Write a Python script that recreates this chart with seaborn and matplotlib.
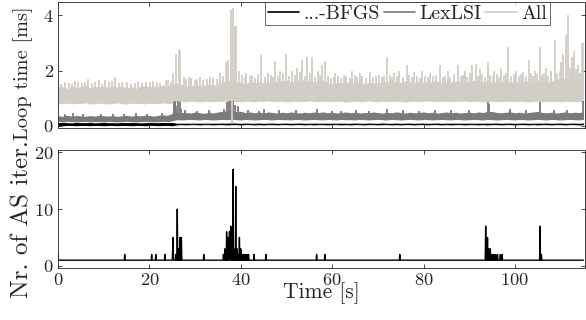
import matplotlib
matplotlib.use('Agg')

import numpy as np
import pandas as pd
import matplotlib.pyplot as plt
import seaborn as sns

# ---------------- DATA ----------------
# Top panel, loop time [ms]. Each series is a dense noise band: per second t = 0..115
# the low and high edge of the band, plus the narrow spikes that stick out of it.
bfgs_lo = [0.01, 0.00, 0.01, 0.01, 0.00, 0.01, 0.01, 0.00, 0.01, 0.01,
           0.00, 0.01, 0.01, 0.00, 0.01, 0.01, 0.00, 0.01, 0.01, 0.00,
           0.01, 0.01, 0.00, 0.01, 0.01, 0.00, 0.03, 0.04, 0.03, 0.04,
           0.04, 0.03, 0.04, 0.04, 0.03, 0.04, 0.04, 0.03, 0.04, 0.04,
           0.03, 0.04, 0.04, 0.03, 0.04, 0.03, 0.04, 0.04, 0.03, 0.04,
           0.04, 0.03, 0.04, 0.04, 0.03, 0.04, 0.03, 0.04, 0.04, 0.03,
           0.04, 0.04, 0.03, 0.04, 0.03, 0.04, 0.04, 0.03, 0.04, 0.04,
           0.03, 0.04, 0.04, 0.03, 0.04, 0.03, 0.04, 0.04, 0.03, 0.04,
           0.04, 0.03, 0.04, 0.04, 0.03, 0.04, 0.03, 0.04, 0.04, 0.03,
           0.04, 0.04, 0.03, 0.04, 0.03, 0.04, 0.04, 0.03, 0.04, 0.04,
           0.03, 0.04, 0.04, 0.03, 0.04, 0.03, 0.04, 0.04, 0.03, 0.04,
           0.04, 0.03, 0.04, 0.04, 0.03, 0.04]
bfgs_hi = [0.11, 0.12, 0.11, 0.10, 0.12, 0.11, 0.11, 0.12, 0.10, 0.11,
           0.12, 0.11, 0.11, 0.10, 0.12, 0.11, 0.12, 0.11, 0.10, 0.11,
           0.12, 0.11, 0.11, 0.12, 0.11, 0.12, 0.08, 0.07, 0.08, 0.07,
           0.07, 0.08, 0.07, 0.07, 0.08, 0.07, 0.08, 0.08, 0.09, 0.08,
           0.07, 0.08, 0.07, 0.07, 0.08, 0.07, 0.07, 0.08, 0.07, 0.07,
           0.08, 0.07, 0.07, 0.08, 0.07, 0.07, 0.08, 0.07, 0.07, 0.08,
           0.07, 0.07, 0.08, 0.07, 0.07, 0.08, 0.07, 0.07, 0.08, 0.07,
           0.07, 0.08, 0.07, 0.07, 0.08, 0.07, 0.07, 0.08, 0.07, 0.07,
           0.08, 0.07, 0.07, 0.08, 0.07, 0.07, 0.08, 0.07, 0.07, 0.08,
           0.07, 0.07, 0.08, 0.07, 0.08, 0.07, 0.08, 0.07, 0.07, 0.08,
           0.07, 0.07, 0.08, 0.07, 0.07, 0.08, 0.07, 0.08, 0.07, 0.07,
           0.08, 0.07, 0.07, 0.08, 0.07, 0.08]
bfgs_spikes = [(38.1, 0.18)]

lex_lo = [0.15, 0.14, 0.16, 0.15, 0.14, 0.15, 0.16, 0.14, 0.15, 0.15,
          0.14, 0.16, 0.15, 0.14, 0.15, 0.16, 0.15, 0.14, 0.15, 0.16,
          0.15, 0.14, 0.15, 0.16, 0.15, 0.18, 0.22, 0.21, 0.22, 0.23,
          0.22, 0.21, 0.23, 0.22, 0.21, 0.22, 0.23, 0.22, 0.24, 0.22,
          0.21, 0.23, 0.22, 0.21, 0.22, 0.23, 0.22, 0.21, 0.23, 0.22,
          0.22, 0.21, 0.23, 0.22, 0.21, 0.22, 0.23, 0.22, 0.21, 0.23,
          0.22, 0.21, 0.23, 0.22, 0.22, 0.21, 0.23, 0.22, 0.21, 0.22,
          0.23, 0.22, 0.21, 0.23, 0.22, 0.21, 0.22, 0.23, 0.22, 0.21,
          0.23, 0.22, 0.21, 0.22, 0.23, 0.22, 0.21, 0.23, 0.22, 0.21,
          0.22, 0.23, 0.22, 0.21, 0.23, 0.22, 0.21, 0.22, 0.23, 0.22,
          0.21, 0.23, 0.22, 0.21, 0.22, 0.23, 0.22, 0.21, 0.23, 0.22,
          0.21, 0.22, 0.23, 0.22, 0.21, 0.23]
lex_hi = [0.36, 0.34, 0.38, 0.35, 0.37, 0.36, 0.34, 0.37, 0.35, 0.38,
          0.36, 0.35, 0.37, 0.34, 0.36, 0.38, 0.35, 0.37, 0.36, 0.38,
          0.37, 0.35, 0.38, 0.39, 0.38, 0.45, 0.50, 0.48, 0.48, 0.46,
          0.50, 0.47, 0.45, 0.49, 0.46, 0.50, 0.52, 0.55, 0.58, 0.52,
          0.52, 0.48, 0.50, 0.47, 0.49, 0.46, 0.50, 0.48, 0.46, 0.49,
          0.47, 0.50, 0.48, 0.46, 0.49, 0.47, 0.50, 0.48, 0.50, 0.47,
          0.49, 0.46, 0.48, 0.50, 0.47, 0.49, 0.46, 0.48, 0.47, 0.50,
          0.48, 0.46, 0.49, 0.47, 0.50, 0.48, 0.46, 0.49, 0.47, 0.48,
          0.50, 0.47, 0.49, 0.46, 0.48, 0.50, 0.47, 0.49, 0.46, 0.48,
          0.49, 0.47, 0.50, 0.48, 0.52, 0.52, 0.48, 0.47, 0.49, 0.50,
          0.47, 0.49, 0.46, 0.48, 0.50, 0.52, 0.48, 0.47, 0.49, 0.46,
          0.48, 0.50, 0.47, 0.49, 0.48, 0.50]
lex_spikes = [(1.5, 0.42), (3.2, 0.45), (5.5, 0.43), (9.5, 0.44), (12.0, 0.42),
              (14.5, 0.44), (17.1, 0.46), (19.5, 0.42), (22.8, 0.47), (25.3, 0.85),
              (25.6, 0.90), (25.9, 0.70), (26.2, 0.90), (26.6, 0.85), (26.9, 0.60),
              (27.8, 0.56), (30.5, 0.55), (33.0, 0.58), (36.3, 0.60), (37.0, 0.85),
              (37.4, 0.90), (37.8, 0.88), (38.4, 0.90), (38.8, 0.75), (39.4, 0.70),
              (41.5, 0.56), (44.0, 0.55), (45.0, 0.60), (48.3, 0.57), (52.0, 0.56),
              (56.7, 0.62), (60.0, 0.55), (62.0, 0.55), (65.3, 0.57), (68.0, 0.55),
              (72.0, 0.60), (75.5, 0.56), (79.0, 0.55), (82.5, 0.57), (86.0, 0.58),
              (90.0, 0.56), (94.0, 0.85), (94.3, 0.80), (99.0, 0.60), (102.5, 0.56),
              (105.5, 0.85), (108.5, 0.57), (111.5, 0.58), (114.9, 0.90)]

all_lo = [0.80, 0.80, 0.82, 0.79, 0.81, 0.80, 0.83, 0.79, 0.80, 0.82,
          0.80, 0.79, 0.81, 0.83, 0.80, 0.79, 0.82, 0.80, 0.81, 0.79,
          0.82, 0.80, 0.81, 0.83, 0.80, 0.82, 0.86, 0.88, 0.87, 0.89,
          0.88, 0.86, 0.89, 0.88, 0.87, 0.89, 0.88, 0.90, 0.88, 0.88,
          0.87, 0.89, 0.88, 0.86, 0.89, 0.88, 0.90, 0.87, 0.88, 0.89,
          0.86, 0.88, 0.89, 0.87, 0.88, 0.90, 0.88, 0.87, 0.89, 0.88,
          0.87, 0.89, 0.88, 0.86, 0.88, 0.89, 0.87, 0.88, 0.90, 0.88,
          0.87, 0.89, 0.88, 0.87, 0.89, 0.88, 0.86, 0.88, 0.89, 0.87,
          0.88, 0.90, 0.88, 0.87, 0.89, 0.88, 0.87, 0.89, 0.88, 0.90,
          0.87, 0.88, 0.89, 0.87, 0.88, 0.89, 0.88, 0.87, 0.89, 0.88,
          0.87, 0.89, 0.88, 0.86, 0.88, 0.89, 0.87, 0.88, 0.89, 0.88,
          0.87, 0.89, 0.88, 0.87, 0.89, 0.88]
all_hi = [1.40, 1.42, 1.35, 1.45, 1.38, 1.42, 1.48, 1.36, 1.44, 1.40,
          1.46, 1.38, 1.45, 1.40, 1.44, 1.37, 1.42, 1.35, 1.43, 1.46,
          1.40, 1.45, 1.42, 1.48, 1.45, 1.50, 1.55, 1.50, 1.45, 1.42,
          1.50, 1.45, 1.48, 1.52, 1.46, 1.55, 1.60, 1.62, 1.65, 1.60,
          1.58, 1.52, 1.60, 1.55, 1.62, 1.56, 1.60, 1.65, 1.58, 1.62,
          1.66, 1.58, 1.62, 1.68, 1.65, 1.64, 1.58, 1.62, 1.66, 1.56,
          1.52, 1.58, 1.55, 1.60, 1.54, 1.57, 1.60, 1.52, 1.58, 1.55,
          1.56, 1.58, 1.62, 1.55, 1.60, 1.57, 1.62, 1.58, 1.54, 1.60,
          1.56, 1.60, 1.58, 1.62, 1.55, 1.60, 1.58, 1.63, 1.60, 1.58,
          1.62, 1.65, 1.60, 1.58, 1.64, 1.60, 1.57, 1.60, 1.65, 1.58,
          1.60, 1.56, 1.60, 1.64, 1.58, 1.66, 1.60, 1.58, 1.62, 1.70,
          1.68, 1.72, 1.75, 1.70, 1.65, 1.70]
# tall, clearly separate spikes
all_spikes = [(0.1, 4.00), (2.5, 1.55), (4.3, 1.60), (6.6, 1.70), (8.2, 1.60),
              (10.3, 1.65), (12.5, 1.75), (14.0, 1.60), (16.8, 1.55), (19.2, 1.60),
              (21.6, 1.60), (23.6, 1.65), (25.2, 1.90), (25.9, 2.60), (26.4, 2.80),
              (26.7, 2.75), (28.6, 1.75), (30.4, 1.70), (33.3, 1.75), (35.5, 1.90),
              (36.8, 2.30), (37.3, 2.40), (37.8, 4.20), (38.1, 0.05), (38.3, 4.25),
              (38.7, 3.60), (39.0, 3.60), (39.6, 2.00), (41.2, 1.90), (42.5, 1.85),
              (44.4, 2.55), (46.0, 1.90), (47.5, 2.35), (48.6, 2.00), (50.0, 2.60),
              (51.3, 2.00), (52.4, 2.10), (53.5, 2.40), (54.4, 2.50), (55.6, 2.50),
              (57.0, 2.00), (57.8, 2.20), (58.5, 2.35), (60.7, 1.90), (62.5, 1.85),
              (64.4, 2.00), (66.0, 1.90), (68.3, 1.95), (70.2, 1.85), (72.0, 2.50),
              (73.6, 1.90), (74.6, 2.00), (76.3, 2.20), (78.0, 1.95), (79.7, 2.00),
              (81.5, 1.90), (83.6, 2.20), (85.3, 2.00), (87.5, 2.20), (89.0, 2.00),
              (90.6, 2.20), (91.4, 2.25), (92.3, 2.05), (94.0, 2.30), (95.5, 2.00),
              (97.0, 2.10), (98.5, 2.85), (100.2, 2.00), (101.8, 1.95), (103.0, 2.40),
              (104.3, 2.00), (105.5, 2.85), (106.8, 2.10), (108.0, 2.00), (108.8, 3.10),
              (110.0, 2.30), (110.5, 2.60), (111.2, 3.30), (111.6, 4.00), (112.4, 2.50),
              (113.0, 2.70), (113.8, 2.20), (114.6, 3.00), (115.0, 3.00)]
# smaller spikes that make the top edge of the band ragged
all_minor = [(0.7, 1.52), (1.6, 1.58), (3.0, 1.50), (3.8, 1.62), (5.2, 1.55),
             (5.9, 1.60), (7.4, 1.54), (9.0, 1.66), (9.7, 1.52), (11.1, 1.58),
             (11.8, 1.62), (13.3, 1.55), (15.2, 1.60), (15.9, 1.52), (17.6, 1.64),
             (18.4, 1.56), (20.1, 1.58), (20.8, 1.62), (22.3, 1.55), (24.1, 1.66),
             (24.8, 1.60), (27.5, 1.75), (28.1, 1.68), (29.2, 1.72), (29.9, 1.65),
             (31.0, 1.78), (31.7, 1.66), (32.5, 1.70), (34.0, 1.74), (34.8, 1.68),
             (36.1, 1.80), (40.3, 1.85), (40.9, 1.75), (42.0, 1.80), (43.1, 1.72),
             (43.8, 1.88), (45.2, 1.78), (46.6, 1.85), (47.0, 1.75), (48.1, 1.82),
             (49.3, 1.90), (50.6, 1.80), (51.8, 1.85), (52.9, 1.95), (54.0, 1.82),
             (55.1, 1.90), (56.3, 1.78), (57.4, 1.85), (59.1, 1.80), (59.7, 1.72),
             (60.3, 1.78), (61.3, 1.82), (62.0, 1.74), (63.1, 1.80), (63.8, 1.72),
             (64.9, 1.85), (65.5, 1.75), (66.6, 1.80), (67.3, 1.72), (68.9, 1.78),
             (69.6, 1.82), (70.8, 1.75), (71.4, 1.80), (72.6, 1.85), (73.1, 1.76),
             (74.1, 1.82), (75.4, 1.78), (76.9, 1.85), (77.5, 1.75), (78.6, 1.80),
             (79.2, 1.74), (80.4, 1.82), (81.0, 1.76), (82.1, 1.80), (82.8, 1.85),
             (84.2, 1.78), (84.8, 1.82), (85.9, 1.75), (86.6, 1.88), (88.1, 1.80),
             (88.6, 1.85), (89.6, 1.78), (90.1, 1.90), (91.9, 1.82), (92.8, 1.86),
             (93.4, 1.78), (94.6, 1.85), (95.1, 1.80), (96.1, 1.88), (96.6, 1.78),
             (97.6, 1.84), (98.0, 1.90), (99.2, 1.80), (99.7, 1.86), (100.8, 1.82),
             (101.3, 1.88), (102.4, 1.80), (103.5, 1.90), (104.0, 1.82), (104.9, 1.88),
             (106.0, 1.85), (106.4, 1.92), (107.3, 1.80), (107.9, 1.95), (109.3, 1.90),
             (109.8, 2.00), (112.0, 2.10), (112.8, 1.95), (113.4, 2.05), (114.2, 1.90)]

# Bottom panel: number of active-set iterations, 1 except at these instants
as_base = 1
as_times = [0.0, 14.6, 20.5, 21.4, 23.4, 25.1, 25.2, 25.8, 26.1, 26.4,
            26.7, 27.0, 31.9, 36.2, 36.5, 36.9, 37.2, 37.5, 37.6, 37.8,
            37.9, 38.1, 38.3, 38.5, 38.7, 38.9, 39.2, 39.5, 39.7, 40.0,
            40.3, 40.6, 40.9, 41.2, 41.5, 41.7, 42.9, 45.5, 56.6, 58.4,
            74.8, 93.6, 94.0, 94.3, 94.6, 95.0, 95.4, 95.8, 96.2, 96.8,
            97.2, 105.5, 105.8]
as_counts = [2, 2, 2, 2, 2, 3, 5, 2, 10, 3,
             5, 5, 2, 2, 3, 6, 5, 6, 6, 7,
             6, 6, 17, 3, 2, 14, 3, 2, 5, 3,
             2, 2, 2, 2, 2, 2, 2, 2, 2, 2,
             2, 7, 5, 3, 3, 2, 2, 2, 2, 2,
             2, 7, 2]

SERIES = ["...-BFGS", "LexLSI", "All"]
COLORS = ["black", "#7a7a7a", "#d2cdc6"]
X_TICKS = [0, 20, 40, 60, 80, 100]
TOP_YTICKS = [0, 2, 4]
BOTTOM_YTICKS = [0, 10, 20]
# ---------------------------------------------------------------


def band_frame(lo, hi):
    """Two observations per second, so seaborn's min-max band spans the noise."""
    t = np.arange(len(lo))
    return pd.DataFrame({'t': np.concatenate([t, t]),
                         'ms': np.concatenate([lo, hi])})


def main():
    sns.set_style("white")
    plt.rcParams['font.family'] = 'cmr10'
    plt.rcParams['mathtext.fontset'] = 'cm'
    plt.rcParams['axes.formatter.use_mathtext'] = True
    plt.rcParams['axes.unicode_minus'] = False

    top = [
        (bfgs_lo, bfgs_hi, bfgs_spikes, 0.05),
        (lex_lo, lex_hi, lex_spikes, 0.30),
        (all_lo, all_hi, all_spikes + all_minor, 1.10),
    ]

    # bottom panel series on a 0.1 s grid
    as_t = np.round(np.arange(0, 1151) * 0.1, 1)
    as_n = np.full(len(as_t), as_base, dtype=float)
    as_n[np.round(np.array(as_times) * 10).astype(int)] = as_counts
    bottom_df = pd.DataFrame({'t': as_t, 'n': as_n})

    fig = plt.figure(figsize=(5.86, 3.2), dpi=100)
    ax1 = fig.add_axes([0.099, 0.601, 0.899, 0.394])
    ax2 = fig.add_axes([0.099, 0.163, 0.899, 0.368])

    for name, color, (lo, hi, spikes, base) in zip(SERIES, COLORS, top):
        sns.lineplot(data=band_frame(lo, hi), x='t', y='ms', ax=ax1,
                     color=color, lw=0.8, label=name,
                     estimator='mean', errorbar=('pi', 100),
                     err_kws={'alpha': 1, 'linewidth': 0})
        sp = pd.DataFrame(spikes, columns=['t', 'ms'])
        ax1.vlines(sp['t'], base, sp['ms'], color=color, lw=1.3, zorder=2)

    sns.lineplot(data=bottom_df, x='t', y='n', ax=ax2, color='black',
                 lw=1.0, estimator=None, errorbar=None)

    ax1.set_xlim(0, 115.3)
    ax2.set_xlim(0, 115.3)
    ax1.set_ylim(-0.07, 4.5)
    ax2.set_ylim(-0.35, 20.4)
    ax1.set_xticks(X_TICKS)
    ax2.set_xticks(X_TICKS)
    ax1.set_yticks(TOP_YTICKS)
    ax2.set_yticks(BOTTOM_YTICKS)

    for ax in (ax1, ax2):
        ax.tick_params(direction='in', length=3, width=0.6, color='#262626',
                       top=True, bottom=True, left=True, right=True,
                       labelsize=13.3, pad=3)
        for s in ax.spines.values():
            s.set_color('#262626')
            s.set_linewidth(0.6)
            s.set_zorder(5)
    ax1.tick_params(labelbottom=False)

    ax1.set_xlabel('')
    ax1.set_ylabel('Loop time [ms]', fontsize=14.6)
    ax2.set_ylabel('Nr. of AS iter.', fontsize=18)
    ax2.set_xlabel('Time [s]', fontsize=15.5)
    ax1.yaxis.set_label_coords(-0.047, 0.434)
    ax2.yaxis.set_label_coords(-0.047, 0.418)
    ax2.xaxis.set_label_coords(0.5, -0.125)

    leg = ax1.legend(loc='upper right', bbox_to_anchor=(0.934, 1.0),
                     ncol=3, fontsize=14.3, frameon=True, fancybox=False,
                     borderaxespad=0, borderpad=0.15, handlelength=1.6,
                     handletextpad=0.2, columnspacing=0.2, labelspacing=0.2)
    leg.get_frame().set_edgecolor('#262626')
    leg.get_frame().set_linewidth(0.6)
    leg.set_zorder(6)
    for h in leg.get_lines():
        h.set_linewidth(1.2)

    fig.savefig('out.png', dpi=100)
    plt.close(fig)


if __name__ == "__main__":
    main()
